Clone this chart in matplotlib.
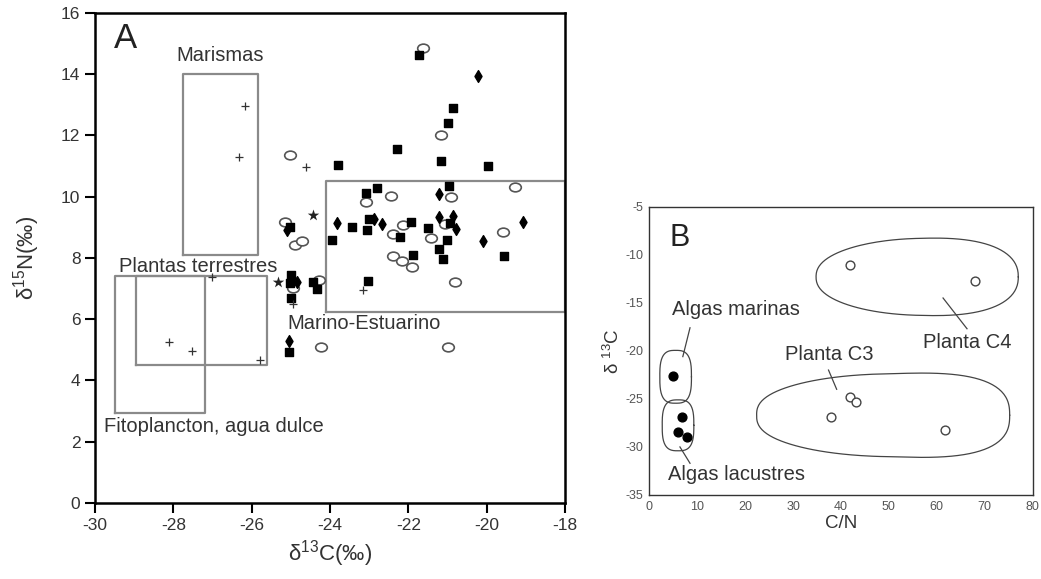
import matplotlib
matplotlib.use("Agg")
import matplotlib.pyplot as plt
import numpy as np

plt.rcParams['font.family'] = ['Liberation Sans', 'DejaVu Sans']
plt.rcParams['mathtext.fontset'] = 'custom'
plt.rcParams['mathtext.rm'] = 'Liberation Sans'
plt.rcParams['mathtext.it'] = 'Liberation Sans:italic'
plt.rcParams['axes.unicode_minus'] = False

# ---- Panel A data (d13C, d15N) ----
sq_x = [-21.73, -20.86, -20.99, -22.29, -23.80, -21.16, -19.97, -20.95, -22.80, -23.07,
        -23.43, -23.00, -25.02, -23.94, -23.06, -22.20, -21.92, -20.94, -21.50, -21.02,
        -21.21, -19.56, -21.87, -21.11, -23.02, -25.00, -25.02, -24.44, -24.34, -25.00,
        -25.05]
sq_y = [14.63, 12.88, 12.39, 11.57, 11.02, 11.17, 11.00, 10.35, 10.28, 10.12,
        9.02, 9.26, 9.02, 8.57, 8.91, 8.67, 9.17, 9.13, 8.97, 8.58,
        8.30, 8.05, 8.08, 7.95, 7.24, 7.43, 7.19, 7.21, 6.97, 6.68,
        4.93]

ci_x = [-21.63, -21.17, -25.01, -19.28, -20.92, -23.08, -22.43, -25.15, -24.89, -24.72,
        -22.13, -22.38, -22.38, -22.17, -21.90, -21.06, -21.43, -19.59, -20.81, -24.94,
        -24.28, -24.23, -20.99]
ci_y = [14.85, 12.02, 11.35, 10.32, 10.00, 9.81, 10.02, 9.17, 8.41, 8.55,
        9.09, 8.77, 8.06, 7.91, 7.70, 9.12, 8.66, 8.84, 7.22, 7.03,
        7.27, 5.09, 5.09]

di_x = [-20.23, -21.21, -25.11, -23.83, -22.88, -22.66, -21.21, -20.87, -20.77, -19.08,
        -20.09, -24.85, -25.05]
di_y = [13.95, 10.08, 8.90, 9.15, 9.28, 9.10, 9.35, 9.37, 8.96, 9.17,
        8.55, 7.21, 5.28]

st_x = [-24.43, -25.32]
st_y = [9.39, 7.21]

pl_x = [-26.17, -26.32, -24.62, -28.10, -27.53, -25.79, -27.02, -24.95, -23.15]
pl_y = [12.96, 11.31, 10.96, 5.25, 4.95, 4.68, 7.39, 6.48, 6.95]

# source boxes: name, x0, x1, y0, y1
box_names = ["Marismas", "Marino-Estuarino", "Plantas terrestres", "Fitoplancton, agua dulce"]
box_x0 = [-27.75, -24.10, -28.95, -29.50]
box_x1 = [-25.85, -18.00, -25.60, -27.20]
box_y0 = [8.10, 6.25, 4.50, 2.95]
box_y1 = [14.00, 10.50, 7.40, 7.40]
box_lab_x = [-27.93, -25.10, -29.40, -29.78]
box_lab_y = [14.62, 5.86, 7.72, 2.50]

# ---- Panel B data (C/N, d13C) ----
cn_fill = [4.9, 6.9, 5.9, 7.9]
c13_fill = [-22.6, -26.9, -28.4, -29.0]
cn_open = [41.8, 67.9, 41.9, 43.2, 37.9, 61.7]
c13_open = [-11.1, -12.7, -24.8, -25.3, -26.9, -28.2]

# groups: cx, cy, half width, half height, taper, squareness
grp_names = ["Algas marinas", "Algas lacustres", "Planta C3", "Planta C4"]
grp_cx = [5.5, 6.0, 48.8, 55.9]
grp_cy = [-22.7, -27.75, -26.7, -12.3]
grp_a = [3.3, 3.3, 26.4, 21.1]
grp_b = [2.75, 2.65, 4.3, 4.0]
grp_k = [0.0, 0.0, 0.18, 0.12]
grp_n = [3.0, 3.0, 2.6, 2.3]
grp_lab_x = [4.7, 4.0, 28.3, 57.2]
grp_lab_y = [-15.7, -32.9, -20.4, -19.1]
lead_x0 = [8.5, 6.4, 37.4, 61.3]
lead_y0 = [-17.6, -30.0, -22.0, -14.5]
lead_x1 = [7.0, 8.5, 39.1, 66.3]
lead_y1 = [-20.6, -31.7, -24.0, -17.7]


def blob(cx, cy, a, b, k, n):
    t = np.linspace(0, 2 * np.pi, 200)
    c, s = np.cos(t), np.sin(t)
    xs = cx + a * np.sign(c) * np.abs(c) ** (2 / n)
    ys = cy + b * np.sign(s) * np.abs(s) ** (2 / n) * (1 + k * c)
    return xs, ys


fig = plt.figure(figsize=(10.41, 5.79), dpi=100)

# ---------------- Panel A ----------------
ax = fig.add_axes([0.0913, 0.1313, 0.4514, 0.8465])
gray = '#8a8a8a'
for x0, x1, y0, y1 in zip(box_x0, box_x1, box_y0, box_y1):
    ax.plot([x0, x1, x1, x0, x0], [y0, y0, y1, y1, y0], color=gray, lw=1.6, zorder=1)
for name, lx, ly in zip(box_names, box_lab_x, box_lab_y):
    ax.text(lx, ly, name, fontsize=14.5, color='#333333', va='center', ha='left', zorder=4)

oval = matplotlib.path.Path.unit_circle()
oval = matplotlib.path.Path(oval.vertices * [1.0, 0.75], oval.codes)
ax.scatter(ci_x, ci_y, marker=oval, s=70, facecolors='white', edgecolors='#555555',
           linewidths=1.2, zorder=2)
ax.scatter(sq_x, sq_y, marker='s', s=38, color='black', zorder=3)
ax.scatter(di_x, di_y, marker='d', s=36, color='black', zorder=3)
ax.scatter(st_x, st_y, marker='*', s=75, color='#222222', linewidths=0, zorder=3)
ax.scatter(pl_x, pl_y, marker='+', s=40, color='#333333', linewidths=0.9, zorder=3)

ax.text(-29.23, 15.15, "A", fontsize=25, color='#222222', ha='center', va='center')

ax.set_xlim(-30, -18)
ax.set_ylim(0, 16)
ax.set_xticks(np.arange(-30, -17, 2))
ax.set_yticks(np.arange(0, 17, 2))
ax.tick_params(direction='out', length=7, width=1.5, labelsize=12.5, labelcolor='#333333')
for sp in ax.spines.values():
    sp.set_linewidth(1.8)
ax.set_xlabel("δ$^{13}$C(‰)", fontsize=16, color='#333333', labelpad=4)
ax.set_ylabel("δ$^{15}$N(‰)", fontsize=16, color='#333333', labelpad=14)

# ---------------- Panel B ----------------
bx = fig.add_axes([0.6237, 0.1451, 0.3683, 0.4979])
for cx, cy, a, b, k, n in zip(grp_cx, grp_cy, grp_a, grp_b, grp_k, grp_n):
    xs, ys = blob(cx, cy, a, b, k, n)
    bx.plot(xs, ys, color='#444444', lw=0.9)
for xa, ya, xb, yb in zip(lead_x0, lead_y0, lead_x1, lead_y1):
    bx.plot([xa, xb], [ya, yb], color='#444444', lw=0.9)
for name, lx, ly in zip(grp_names, grp_lab_x, grp_lab_y):
    bx.text(lx, ly, name, fontsize=14.5, color='#333333', va='center', ha='left')

bx.scatter(cn_fill, c13_fill, s=40, color='black', zorder=3)
bx.scatter(cn_open, c13_open, s=40, facecolors='white', edgecolors='#444444',
           linewidths=1.0, zorder=3)
bx.text(6.4, -8.3, "B", fontsize=22, color='#222222', ha='center', va='center')

bx.set_xlim(0, 80)
bx.set_ylim(-35, -5)
bx.set_xticks(np.arange(0, 81, 10))
bx.set_yticks(np.arange(-35, -4, 5))
bx.tick_params(length=0, labelsize=9, labelcolor='#555555', pad=4)
for sp in bx.spines.values():
    sp.set_linewidth(1.0)
    sp.set_color('#333333')
bx.set_xlabel("C/N", fontsize=13.5, color='#333333', labelpad=2)
bx.set_ylabel("δ $^{13}$C", fontsize=13.5, color='#333333', labelpad=2)

fig.savefig("out.png", dpi=100)
